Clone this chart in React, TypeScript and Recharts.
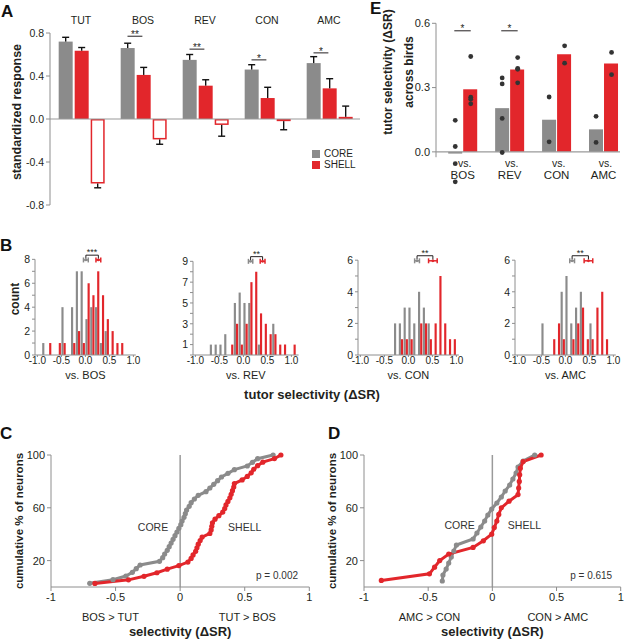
import React from 'react';
import {
  ComposedChart,
  LineChart,
  Bar,
  Line,
  Scatter,
  XAxis,
  YAxis,
  ReferenceLine,
  ReferenceDot,
  ErrorBar,
  Legend,
} from 'recharts';

const GRAY = '#8b8b8b';
const RED = '#e2262b';
const INK = '#231f20';
const AXIS = '#8e8e8e';
const FONT = '"Liberation Sans", Arial, Helvetica, sans-serif';

// ---------- A: standardized response per stimulus
const A_CATS = ['TUT', 'BOS', 'REV', 'CON', 'AMC'];
const A_IDX = [0, 1, 2, 3, 4];
const A_CORE = [0.72, 0.66, 0.55, 0.46, 0.52];
const A_CORE_SEM = [0.04, 0.045, 0.05, 0.045, 0.06];
const A_SHELL = [0.635, 0.41, 0.31, 0.195, 0.285];
const A_SHELL_SEM = [0.03, 0.07, 0.055, 0.1, 0.09];
const A_DIFF = [-0.6, -0.19, -0.055, -0.02, 0.02];
const A_DIFF_SEM = [0.04, 0.045, 0.105, 0.08, 0.1];
const A_STARS = ['', '**', '**', '*', '*'];
const A_STAR_Y = [0, 0.77, 0.65, 0.55, 0.615];
const A_TICKS = [-0.8, -0.4, 0, 0.4, 0.8];

// ---------- E: tutor selectivity across birds
const E_CATS = ['BOS', 'REV', 'CON', 'AMC'];
const E_IDX = [0, 1, 2, 3];
const E_CORE = [-0.008, 0.204, 0.15, 0.105];
const E_SHELL = [0.292, 0.384, 0.455, 0.412];
const E_CORE_BIRDS = [[0.147, 0.025, -0.055, -0.14], [0.345, 0.317, 0.156, -0.003], [0.256, 0.047], [0.166, 0.044]];
const E_SHELL_BIRDS = [[0.445, 0.255, 0.245, 0.224], [0.44, 0.39, 0.385, 0.322], [0.495, 0.414], [0.464, 0.36]];
const E_STARS = ['*', '*', '', ''];
const E_TICKS = [0, 0.3, 0.6];

// ---------- B: histograms of selectivity
const BINS = [-0.95, -0.85, -0.75, -0.65, -0.55, -0.45, -0.35, -0.25, -0.15, -0.05, 0.05, 0.15, 0.25, 0.35, 0.45, 0.55, 0.65, 0.75, 0.85, 0.95];
const BINS_WIDE = [-0.95, -0.85, -0.75, -0.65, -0.55, -0.45, -0.35, -0.25, -0.15, -0.05, 0.05, 0.15, 0.25, 0.35, 0.45, 0.55, 0.65, 0.75, 0.85, 0.95, 1.05];
const BOS_CORE = [0, 1, 0, 0, 0, 4, 0, 4, 7, 7, 3, 4, 4, 1, 2, 0, 0, 0, 0, 0];
const BOS_SHELL = [0, 0, 1, 0, 1, 1, 0, 1, 2, 1, 6, 5, 7, 5, 3, 2, 1, 1, 0, 0];
const REV_CORE = [0, 0, 0, 1, 1, 1, 2, 0, 5, 6, 5, 5, 0, 1, 0, 0, 3, 0, 0, 0, 0];
const REV_SHELL = [0, 0, 0, 0, 0, 0, 0, 1, 3, 1, 3, 7, 8, 4, 3, 2, 2, 1, 1, 0, 1];
const CON_CORE = [0, 0, 0, 0, 0, 0, 0, 2, 2, 3, 3, 2, 4, 3, 2, 0, 0, 0, 0, 0];
const CON_SHELL = [0, 0, 0, 0, 0, 0, 0, 0, 1, 1, 1, 0, 2, 2, 1, 2, 5, 2, 1, 1];
const AMC_CORE = [0, 0, 0, 0, 0, 2, 0, 0, 0, 4, 5, 2, 3, 4, 0, 2, 0, 0, 0, 0];
const AMC_SHELL = [0, 0, 0, 0, 0, 0, 0, 1, 2, 1, 0, 1, 2, 3, 1, 1, 3, 4, 1, 0];
// mean +/- sem  [core, shell]
const BOS_MEAN = [0.01, 0.27];
const BOS_SEM = [0.05, 0.05];
const REV_MEAN = [0.15, 0.4];
const REV_SEM = [0.045, 0.05];
const CON_MEAN = [0.18, 0.51];
const CON_SEM = [0.05, 0.09];
const AMC_MEAN = [0.14, 0.48];
const AMC_SEM = [0.05, 0.09];
const B_XTICKS = [-1, -0.5, 0, 0.5, 1];

// ---------- C / D: sorted selectivity values (cumulative plots)
const C_CORE_X = [-0.7, -0.52, -0.42, -0.37, -0.34, -0.31, -0.16, -0.135, -0.12, -0.1, -0.085, -0.07, -0.055, -0.04, -0.025, -0.01, 0.005, 0.015, 0.03, 0.04, 0.05, 0.07, 0.085, 0.11, 0.14, 0.2, 0.23, 0.26, 0.29, 0.32, 0.37, 0.42, 0.52, 0.56, 0.6, 0.72];
const C_SHELL_X = [-0.66, -0.4, -0.28, -0.18, -0.1, -0.01, 0.06, 0.085, 0.1, 0.12, 0.13, 0.14, 0.155, 0.17, 0.23, 0.24, 0.245, 0.25, 0.27, 0.3, 0.33, 0.345, 0.355, 0.37, 0.385, 0.395, 0.405, 0.415, 0.42, 0.48, 0.52, 0.55, 0.57, 0.6, 0.64, 0.73, 0.78];
const D_CORE_X = [-0.39, -0.385, -0.36, -0.34, -0.32, -0.3, -0.28, -0.15, -0.12, -0.09, -0.06, -0.035, -0.005, 0.035, 0.07, 0.1, 0.135, 0.16, 0.185, 0.2, 0.24, 0.33];
const D_SHELL_X = [-0.865, -0.49, -0.45, -0.41, -0.34, -0.15, -0.07, -0.005, 0.015, 0.035, 0.05, 0.07, 0.13, 0.2, 0.205, 0.21, 0.213, 0.218, 0.24, 0.38];
const CD_XTICKS = [-1, -0.5, 0, 0.5, 1];

const rotLabel = (text: string, dx: number, size: number, dy = 0) => (props: any) => {
  const vb = props.viewBox || {};
  const cx = vb.x + dx;
  const cy = vb.y + vb.height / 2 + dy;
  return (
    <text x={cx} y={cy} transform={`rotate(-90, ${cx}, ${cy})`} textAnchor="middle" dominantBaseline="middle"
      fontSize={size} fontWeight="bold" fill={INK}>
      {text}
    </text>
  );
};

// bar with a one-sided error bar pointing away from zero
const barWithErr = (valKey: string, semKey: string, fill: string, hollow = false) => (props: any) => {
  const { x, y, width, height, payload } = props;
  const v = payload[valKey];
  const sem = payload[semKey];
  const top = Math.min(y, y + height);
  const h = Math.abs(height);
  const ppu = v !== 0 ? h / Math.abs(v) : 0;
  const end = v >= 0 ? top : top + h;
  const tip = v >= 0 ? end - sem * ppu : end + sem * ppu;
  const cx = x + width / 2;
  return (
    <g>
      {hollow ? (
        <rect x={x + 0.75} y={top + 0.75} width={width - 1.5} height={Math.max(h - 1.5, 0.5)} fill="#fff" stroke={fill} strokeWidth={1.5} />
      ) : (
        <rect x={x} y={top} width={width} height={h} fill={fill} />
      )}
      <line x1={cx} x2={cx} y1={end} y2={tip} stroke="#111" strokeWidth={1.4} />
      <line x1={cx - 3.5} x2={cx + 3.5} y1={tip} y2={tip} stroke="#111" strokeWidth={1.4} />
    </g>
  );
};

function PanelA() {
  const data = A_IDX.map((x, i) => ({
    x, core: A_CORE[i], coreSem: A_CORE_SEM[i], shell: A_SHELL[i], shellSem: A_SHELL_SEM[i], diff: A_DIFF[i], diffSem: A_DIFF_SEM[i],
  }));
  return (
    <div style={{ position: 'absolute', left: 0, top: 0 }}>
      <ComposedChart width={370} height={210} data={data} margin={{ top: 5, right: 10, bottom: 5, left: 0 }} barGap={2} barCategoryGap="14%">
        <XAxis dataKey="x" type="number" orientation="top" domain={[-0.5, 4.5]} ticks={A_IDX} interval={0}
          tickFormatter={(v: number) => A_CATS[v]} axisLine={false} tickLine={false} tickSize={0} tickMargin={9} height={28}
          tick={{ fontSize: 10.5, fill: INK }} />
        <YAxis domain={[-0.8, 0.8]} ticks={A_TICKS} interval={0} tickFormatter={(v: number) => v.toFixed(1)} width={50}
          tickSize={4} stroke={AXIS} tick={{ fontSize: 10.5, fill: INK }} label={rotLabel('standardized response', 18, 12.5, -7)} />
        <ReferenceLine y={0} stroke="#9a9a9a" strokeWidth={1.2} />
        <Bar dataKey="core" name="CORE" fill={GRAY} shape={barWithErr('core', 'coreSem', GRAY)} isAnimationActive={false} />
        <Bar dataKey="shell" name="SHELL" fill={RED} shape={barWithErr('shell', 'shellSem', RED)} isAnimationActive={false} />
        <Bar dataKey="diff" name="diff" legendType="none" fill={RED} shape={barWithErr('diff', 'diffSem', RED, true)} isAnimationActive={false} />
        {A_IDX.filter((i) => A_STARS[i]).map((i) => (
          <ReferenceLine key={`a${i}`} ifOverflow="visible"
            segment={[{ x: i - 0.25, y: A_STAR_Y[i] }, { x: i - 0.01, y: A_STAR_Y[i] }]}
            stroke={INK} strokeWidth={1}
            label={{ value: A_STARS[i], position: 'top', fontSize: 10, fill: INK, offset: -2 }} />
        ))}
        <Legend layout="vertical" align="center" verticalAlign="middle" iconType="square" iconSize={8}
          wrapperStyle={{ left: 312, top: 148, width: 60, fontSize: 10, lineHeight: '11px' }}
          formatter={(v: any) => <span style={{ color: INK }}>{v}</span>} />
      </ComposedChart>
    </div>
  );
}

const ETick = (props: any) => {
  const { x, y, payload } = props;
  return (
    <g>
      <text x={x + 2} y={y - 17} textAnchor="middle" fontSize={10.5} fill={INK}>vs.</text>
      <text x={x} y={y - 5} textAnchor="middle" fontSize={11.5} fill={INK}>{E_CATS[payload.value]}</text>
    </g>
  );
};

function PanelE() {
  const data = E_IDX.map((x, i) => ({ x, core: E_CORE[i], shell: E_SHELL[i] }));
  const coreDots = E_IDX.flatMap((i) => E_CORE_BIRDS[i].map((y) => ({ x: i - 0.16, y })));
  const shellDots = E_IDX.flatMap((i) => E_SHELL_BIRDS[i].map((y) => ({ x: i + 0.17, y })));
  const dom: [number, number] = [-0.57, 3.35];
  const eLabel = (props: any) => {
    const vb = props.viewBox || {};
    const cy = 72;
    const x1 = vb.x + 19;
    const x2 = vb.x + 40;
    return (
      <g>
        <text x={x1} y={cy} transform={`rotate(-90, ${x1}, ${cy})`} textAnchor="middle" dominantBaseline="middle" fontSize={12} fontWeight="bold" fill={INK}>tutor selectivity (ΔSR)</text>
        <text x={x2} y={cy} transform={`rotate(-90, ${x2}, ${cy})`} textAnchor="middle" dominantBaseline="middle" fontSize={12} fontWeight="bold" fill={INK}>across birds</text>
      </g>
    );
  };
  return (
    <div style={{ position: 'absolute', left: 370, top: 0 }}>
      <ComposedChart width={254} height={190} data={data} margin={{ top: 23.3, right: 4, bottom: 5, left: 0 }} barGap={1} barCategoryGap="19%">
        <XAxis dataKey="x" type="number" domain={dom} ticks={E_IDX} interval={0} axisLine={false} tickLine={false}
          tickSize={0} tickMargin={0} height={1} tick={(p: any) => <ETick {...p} />} />
        <XAxis xAxisId="dots" dataKey="x" type="number" domain={dom} hide />
        <YAxis domain={[-0.15, 0.6]} ticks={E_TICKS} interval={0} tickFormatter={(v: number) => v.toFixed(1)} width={66}
          axisLine={false} tickSize={4} stroke={AXIS} tick={{ fontSize: 11, fill: INK }} label={eLabel} />
        <ReferenceLine ifOverflow="visible" segment={[{ x: dom[0], y: -0.025 }, { x: dom[0], y: 0.6 }]} stroke={AXIS} />
        <ReferenceLine y={0} stroke="#9a9a9a" strokeWidth={1.2} />
        <Bar dataKey="core" fill={GRAY} isAnimationActive={false} />
        <Bar dataKey="shell" fill={RED} isAnimationActive={false} />
        <Scatter xAxisId="dots" data={coreDots} dataKey="y" fill="#333" isAnimationActive={false}
          shape={(p: any) => <circle cx={p.cx} cy={p.cy} r={2.4} fill="#333" />} />
        <Scatter xAxisId="dots" data={shellDots} dataKey="y" fill="#333" isAnimationActive={false}
          shape={(p: any) => <circle cx={p.cx} cy={p.cy} r={2.4} fill="#333" />} />
        {E_IDX.filter((i) => E_STARS[i]).map((i) => (
          <ReferenceLine key={`e${i}`} xAxisId="dots" ifOverflow="visible"
            segment={[{ x: i - 0.18, y: 0.565 }, { x: i + 0.17, y: 0.565 }]} stroke={INK} strokeWidth={1}
            label={{ value: E_STARS[i], position: 'top', fontSize: 10, fill: INK, offset: -1 }} />
        ))}
      </ComposedChart>
    </div>
  );
}

type HistProps = {
  left: number; width: number; plotW: number; xDom: [number, number]; yTop: number; yMax: number;
  yTicks: number[]; yLabels: number[]; bins: number[]; core: number[]; shell: number[];
  mean: number[]; sem: number[]; markY: number; bracketY: number; legY: number; stars: string; title: string; showCount?: boolean;
};

function Hist(p: HistProps) {
  const data = p.bins.map((x, i) => ({ x, core: p.core[i], shell: p.shell[i] }));
  const coreMark = [{ x: p.mean[0], y: p.markY, e: p.sem[0] }];
  const shellMark = [{ x: p.mean[1], y: p.markY, e: p.sem[1] }];
  const binPx = (p.plotW / (p.xDom[1] - p.xDom[0])) * 0.1;
  return (
    <div style={{ position: 'absolute', left: p.left, top: 225 }}>
      <ComposedChart width={p.width} height={158} data={data}
        margin={{ top: 20, right: p.width - 35 - p.plotW, bottom: 0, left: 0 }} barGap={0} barCategoryGap={0}>
        <XAxis dataKey="x" type="number" domain={p.xDom} ticks={B_XTICKS} interval={0}
          tickFormatter={(v: number) => v.toFixed(1)} tick={{ fontSize: 10, fill: INK }} tickSize={2} tickMargin={0}
          stroke={AXIS} height={28}
          label={{ value: p.title, position: 'insideBottom', offset: 4, fontSize: 11, fill: INK }} />
        <XAxis xAxisId="m" dataKey="x" type="number" domain={p.xDom} hide />
        <YAxis domain={[0, p.yTop]} ticks={p.yTicks} interval={0}
          tickFormatter={(v: number) => (p.yLabels.includes(v) ? String(v) : '')}
          width={35} axisLine={false} tickSize={3} stroke={AXIS} tick={{ fontSize: 10.5, fill: INK }}
          label={p.showCount ? rotLabel('count', 16, 12, -1) : undefined} />
        <ReferenceLine ifOverflow="visible" segment={[{ x: p.xDom[0], y: 0 }, { x: p.xDom[0], y: p.yMax }]} stroke={AXIS} />
        <Bar dataKey="core" fill={GRAY} barSize={binPx / 2} isAnimationActive={false} />
        <Bar dataKey="shell" fill={RED} barSize={binPx / 2} isAnimationActive={false} />
        <ReferenceLine xAxisId="m" ifOverflow="visible"
          segment={[{ x: p.mean[0], y: p.bracketY }, { x: p.mean[1], y: p.bracketY }]} stroke={INK} strokeWidth={1}
          label={{ value: p.stars, position: 'top', fontSize: 9, fill: INK, offset: 0 }} />
        <ReferenceLine xAxisId="m" ifOverflow="visible"
          segment={[{ x: p.mean[0], y: p.bracketY }, { x: p.mean[0], y: p.legY }]} stroke={INK} strokeWidth={1} />
        <ReferenceLine xAxisId="m" ifOverflow="visible"
          segment={[{ x: p.mean[1], y: p.bracketY }, { x: p.mean[1], y: p.legY }]} stroke={INK} strokeWidth={1} />
        <Scatter xAxisId="m" data={coreMark} dataKey="y" fill={GRAY} isAnimationActive={false}
          shape={(s: any) => <circle cx={s.cx} cy={s.cy} r={1.4} fill={GRAY} />}>
          <ErrorBar dataKey="e" direction="x" width={2.5} stroke={GRAY} strokeWidth={1.5} />
        </Scatter>
        <Scatter xAxisId="m" data={shellMark} dataKey="y" fill={RED} isAnimationActive={false}
          shape={(s: any) => <circle cx={s.cx} cy={s.cy} r={1.4} fill={RED} />}>
          <ErrorBar dataKey="e" direction="x" width={2.5} stroke={RED} strokeWidth={1.5} />
        </Scatter>
      </ComposedChart>
    </div>
  );
}

type CumProps = {
  left: number; width: number; plotW: number; core: number[]; shell: number[];
  ann: string[]; annX: number[]; coreTxt: [number, number]; shellTxt: [number, number]; pTxt: string; pPos: [number, number];
};

function Cum(p: CumProps) {
  const coreData = p.core.map((x, i) => ({ x, y: ((i + 1) / p.core.length) * 100 }));
  const shellData = p.shell.map((x, i) => ({ x, y: ((i + 1) / p.shell.length) * 100 }));
  const txt = (value: string, size: number) => ({ value, position: 'center' as const, fontSize: size, fill: '#333' });
  return (
    <div style={{ position: 'absolute', left: p.left, top: 440 }}>
      <LineChart width={p.width} height={199} margin={{ top: 15, right: p.width - 51 - p.plotW, bottom: 0, left: 0 }}>
        <XAxis dataKey="x" type="number" domain={[-1, 1]} ticks={CD_XTICKS} interval={0}
          tickFormatter={(v: number) => String(v)} tick={{ fontSize: 11, fill: INK }} tickSize={4} tickMargin={2}
          height={52} stroke={AXIS}
          label={{ value: 'selectivity (ΔSR)', position: 'insideBottom', offset: 3, fontSize: 13, fontWeight: 'bold', fill: INK }} />
        <YAxis domain={[0, 100]} ticks={[20, 60, 100]} interval={0} width={51} tickSize={4} stroke={AXIS}
          tick={{ fontSize: 11, fill: INK }} label={rotLabel('cumulative % of neurons', 20, 11.5)} />
        <ReferenceLine x={0} stroke="#9a9a9a" strokeWidth={1.5} />
        <Line data={coreData} dataKey="y" stroke={GRAY} strokeWidth={3} type="linear"
          dot={{ r: 2.6, fill: GRAY, stroke: GRAY, strokeWidth: 0 }} isAnimationActive={false} />
        <Line data={shellData} dataKey="y" stroke={RED} strokeWidth={3} type="linear"
          dot={{ r: 2.6, fill: RED, stroke: RED, strokeWidth: 0 }} isAnimationActive={false} />
        <ReferenceDot x={p.coreTxt[0]} y={p.coreTxt[1]} r={0} fill="none" stroke="none" label={txt('CORE', 10.5)} />
        <ReferenceDot x={p.shellTxt[0]} y={p.shellTxt[1]} r={0} fill="none" stroke="none" label={txt('SHELL', 10.5)} />
        <ReferenceDot x={p.pPos[0]} y={p.pPos[1]} r={0} fill="none" stroke="none" label={txt(p.pTxt, 10)} />
        {p.ann.map((a, i) => (
          <ReferenceDot key={a} x={p.annX[i]} y={-23} r={0} fill="none" stroke="none" ifOverflow="visible"
            label={{ value: a, position: 'center', fontSize: 11, fill: INK }} />
        ))}
      </LineChart>
    </div>
  );
}

const letter = (ch: string, left: number, top: number) => (
  <div style={{ position: 'absolute', left, top, fontSize: 17, fontWeight: 'bold', lineHeight: '17px', color: '#111' }}>{ch}</div>
);

export default function App() {
  return (
    <div style={{ position: 'absolute', left: 0, top: 0, width: 624, height: 639, overflow: 'hidden', background: '#fff', fontFamily: FONT, color: INK }}>
      <PanelA />
      <PanelE />
      <Hist left={0} width={144} plotW={100.8} xDom={[-1.05, 1.05]} yTop={9.2} yMax={8}
        yTicks={[0, 1, 2, 3, 4, 5, 6, 7, 8]} yLabels={[0, 2, 4, 6, 8]} bins={BINS} core={BOS_CORE} shell={BOS_SHELL}
        mean={BOS_MEAN} sem={BOS_SEM} markY={7.95} bracketY={8.35} legY={8.05} stars="***" title="vs. BOS" showCount />
      <Hist left={157.7} width={146} plotW={105.6} xDom={[-1.05, 1.15]} yTop={10.57} yMax={9}
        yTicks={[0, 1, 2, 3, 4, 5, 6, 7, 8, 9]} yLabels={[1, 3, 5, 7, 9]} bins={BINS_WIDE} core={REV_CORE} shell={REV_SHELL}
        mean={REV_MEAN} sem={REV_SEM} markY={9} bracketY={9.45} legY={9.12} stars="**" title="vs. REV" />
      <Hist left={323.3} width={144} plotW={100.8} xDom={[-1.05, 1.05]} yTop={6.96} yMax={6}
        yTicks={[0, 1, 2, 3, 4, 5, 6]} yLabels={[0, 2, 4, 6]} bins={BINS} core={CON_CORE} shell={CON_SHELL}
        mean={CON_MEAN} sem={CON_SEM} markY={5.96} bracketY={6.28} legY={6.04} stars="**" title="vs. CON" />
      <Hist left={480} width={144} plotW={100.8} xDom={[-1.05, 1.05]} yTop={6.96} yMax={6}
        yTicks={[0, 1, 2, 3, 4, 5, 6]} yLabels={[0, 2, 4, 6]} bins={BINS} core={AMC_CORE} shell={AMC_SHELL}
        mean={AMC_MEAN} sem={AMC_SEM} markY={5.96} bracketY={6.28} legY={6.04} stars="**" title="vs. AMC" />
      <div style={{ position: 'absolute', left: 212, top: 387, width: 200, textAlign: 'center', fontSize: 13, fontWeight: 'bold' }}>
        tutor selectivity (ΔSR)
      </div>
      <Cum left={0} width={320} plotW={258.3} core={C_CORE_X} shell={C_SHELL_X}
        ann={['BOS > TUT', 'TUT > BOS']} annX={[-0.54, 0.52]} coreTxt={[-0.21, 45]} shellTxt={[0.5, 45]}
        pTxt="p = 0.002" pPos={[0.75, 9]} />
      <Cum left={313.3} width={312} plotW={256.7} core={D_CORE_X} shell={D_SHELL_X}
        ann={['AMC > CON', 'CON > AMC']} annX={[-0.49, 0.51]} coreTxt={[-0.255, 47]} shellTxt={[0.25, 47]}
        pTxt="p = 0.615" pPos={[0.77, 9]} />
      {letter('A', 1, 3)}
      {letter('B', 0, 237)}
      {letter('C', 0, 425)}
      {letter('D', 328, 425)}
      {letter('E', 370, 0)}
    </div>
  );
}
